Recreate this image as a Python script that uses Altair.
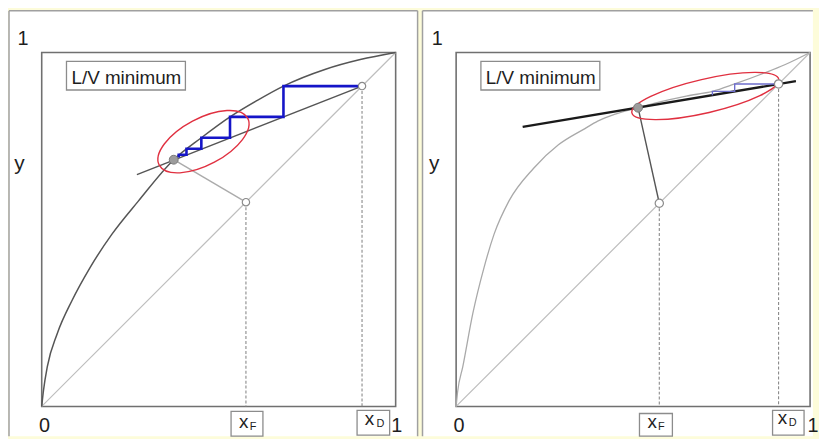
import altair as alt
import pandas as pd

# ---------------- values ----------------
# Left panel
L_EQ_X = [0, 0.005, 0.016, 0.044, 0.086, 0.137, 0.198, 0.273, 0.373, 0.451, 0.532, 0.608, 0.683, 0.80, 0.90, 1]
L_EQ_Y = [0, 0.045, 0.113, 0.206, 0.300, 0.393, 0.486, 0.580, 0.697, 0.759, 0.818, 0.864, 0.905, 0.952, 0.980, 1]
L_OP = [0.269, 0.655, 0.905, 0.905]          # x1, y1, x2, y2
L_XF = 0.577
L_XD = 0.905
L_PINCH = [0.373, 0.697]
L_STEP_X = [0.905, 0.683, 0.683, 0.532, 0.532, 0.451, 0.451, 0.409, 0.409, 0.387, 0.387]
L_STEP_Y = [0.905, 0.905, 0.818, 0.818, 0.759, 0.759, 0.728, 0.728, 0.711, 0.711, 0.703]
L_ELL = [0.457, 0.748]                      # centre of red ellipse
L_XF_BOX = [0.535, 0.625, -0.014, -0.084]
L_XD_BOX = [0.891, 0.983, -0.011, -0.081]
L_FRAME = [-0.0924, 1.062, -0.084, 1.1176]

# Right panel
R_EQ_X = [0, 0.004, 0.019, 0.047, 0.079, 0.107, 0.149, 0.219, 0.289, 0.364, 0.400, 0.450, 0.514, 0.600, 0.650, 0.724, 0.787, 0.871, 0.930, 1]
R_EQ_Y = [0, 0.040, 0.113, 0.262, 0.393, 0.486, 0.580, 0.673, 0.739, 0.785, 0.806, 0.826, 0.844, 0.866, 0.877, 0.890, 0.911, 0.942, 0.966, 1]
R_OP = [0.188, 0.790, 0.960, 0.919]
R_XF = 0.574
R_XD = 0.911
R_PINCH = [0.514, 0.844]
R_STEP_X = [0.911, 0.787, 0.787, 0.724, 0.724]
R_STEP_Y = [0.911, 0.911, 0.890, 0.890, 0.879]
R_ELL = [0.704, 0.877]
R_XF_BOX = [0.518, 0.611, -0.020, -0.084]
R_XD_BOX = [0.894, 0.983, -0.011, -0.081]
R_FRAME = [-0.095, 1.008, -0.084, 1.1176]

LV_BOX = [0.070, 0.406, 0.894, 0.975]
LABEL_TEXT = ["1", "y", "0", "1"]
L_LABEL_X = [-0.053, -0.063, 0.008, 1.003]
R_LABEL_X = [-0.053, -0.062, 0.008, 1.008]
LABEL_Y = [1.022, 0.667, -0.073, -0.073]
LABEL_SIZE = [20, 21, 20, 20]

L_SUB = [("x", 0.571, -0.062, 19), ("F", 0.597, -0.066, 11),
         ("x", 0.926, -0.053, 19), ("D", 0.957, -0.057, 11)]
R_SUB = [("x", 0.554, -0.062, 19), ("F", 0.580, -0.067, 11),
         ("x", 0.922, -0.050, 19), ("D", 0.951, -0.055, 11)]

BG = "#fdfcda"
FONT = "Liberation Sans"
DOM = [0, 1]


def X(f):
    return alt.X(f, type="quantitative", scale=alt.Scale(domain=DOM, nice=False, zero=False), axis=None)


def Y(f):
    return alt.Y(f, type="quantitative", scale=alt.Scale(domain=DOM, nice=False, zero=False), axis=None)


def segs(rows, **kw):
    df = pd.DataFrame(rows, columns=["x", "y", "x2", "y2"])
    return alt.Chart(df).mark_rule(**kw).encode(x=X("x"), y=Y("y"), x2="x2", y2="y2")


def boxes(rows, **kw):
    df = pd.DataFrame(rows, columns=["x", "x2", "y", "y2"])
    return alt.Chart(df).mark_rect(**kw).encode(x=X("x"), x2="x2", y=Y("y"), y2="y2")


def ellipse_path(r):
    k = 0.5523
    return (f"M -1 0 C -1 {-k*r:.4f} {-k:.4f} {-r:.4f} 0 {-r:.4f} "
            f"C {k:.4f} {-r:.4f} 1 {-k*r:.4f} 1 0 "
            f"C 1 {k*r:.4f} {k:.4f} {r:.4f} 0 {r:.4f} "
            f"C {-k:.4f} {r:.4f} -1 {k*r:.4f} -1 0 Z")


def panel(eq_x, eq_y, eq_style, op, op_style, q_style, xf, xd, pinch, step_x, step_y, step_style,
          ell, ell_ratio, ell_size, ell_angle, xf_box, xd_box, frame, right_border, label_x, subs,
          open_size, pinch_size):
    layers = []
    fx1, fx2, fy1, fy2 = frame
    layers.append(boxes([[fx1, fx2, fy1, fy2]], fill="white", strokeWidth=0))
    border = [[fx1, fy1, fx1, fy2], [fx1, fy2, fx2, fy2]]
    if right_border:
        border.append([fx2, fy1, fx2, fy2])
    layers.append(segs(border, color="#a0a0a0", strokeWidth=1.5))
    # plot box
    layers.append(boxes([[0, 1, 0, 1]], fillOpacity=0, stroke="#707070", strokeWidth=1.6))
    # diagonal
    layers.append(segs([[0, 0, 1, 1]], color="#bdbdbd", strokeWidth=1.2))
    # dashed verticals
    layers.append(segs([[xf, xf, xf, 0], [xd, xd, xd, 0]], color="#8a8a8a", strokeWidth=1.1, strokeDash=[3, 2]))
    # q-line
    layers.append(segs([[xf, xf, pinch[0], pinch[1]]], **q_style))
    # equilibrium curve
    eq = pd.DataFrame({"x": eq_x, "y": eq_y, "i": list(range(len(eq_x)))})
    layers.append(alt.Chart(eq).mark_line(interpolate="monotone", **eq_style)
                  .encode(x=X("x"), y=Y("y"), order=alt.Order("i:Q")))
    # operating line
    layers.append(segs([op], **op_style))
    # stages
    st = pd.DataFrame({"x": step_x, "y": step_y, "i": list(range(len(step_x)))})
    layers.append(alt.Chart(st).mark_line(**step_style)
                  .encode(x=X("x"), y=Y("y"), order=alt.Order("i:Q")))
    # red ellipse
    layers.append(alt.Chart(pd.DataFrame({"x": [ell[0]], "y": [ell[1]]}))
                  .mark_point(shape=ellipse_path(ell_ratio), size=ell_size, angle=ell_angle,
                              filled=False, stroke="#e03040", strokeWidth=1.4, opacity=1)
                  .encode(x=X("x"), y=Y("y")))
    # points
    layers.append(alt.Chart(pd.DataFrame({"x": [pinch[0]], "y": [pinch[1]]}))
                  .mark_point(shape="circle", filled=True, size=pinch_size, fill="#9c9c9c",
                              stroke="#7a7a7a", strokeWidth=1, opacity=1)
                  .encode(x=X("x"), y=Y("y")))
    layers.append(alt.Chart(pd.DataFrame({"x": [xf, xd], "y": [xf, xd]}))
                  .mark_point(shape="circle", filled=True, size=open_size, fill="white",
                              stroke="#8a8a8a", strokeWidth=1.2, opacity=1)
                  .encode(x=X("x"), y=Y("y")))
    # label boxes
    layers.append(boxes([xf_box, xd_box, LV_BOX], fill="white", stroke="#8c8c8c", strokeWidth=1.3))
    # axis-like labels
    lab = pd.DataFrame({"x": label_x, "y": LABEL_Y, "t": LABEL_TEXT, "s": LABEL_SIZE})
    layers.append(alt.Chart(lab).mark_text(font=FONT, color="#1e1e1e", align="center", baseline="alphabetic")
                  .encode(x=X("x"), y=Y("y"), text="t:N", size=alt.Size("s:Q", scale=None)))
    sub = pd.DataFrame(subs, columns=["t", "x", "y", "s"])
    layers.append(alt.Chart(sub).mark_text(font=FONT, color="#1e1e1e", align="center", baseline="alphabetic")
                  .encode(x=X("x"), y=Y("y"), text="t:N", size=alt.Size("s:Q", scale=None)))
    lv = pd.DataFrame({"x": [0.084], "y": [0.910], "t": ["L/V minimum"]})
    layers.append(alt.Chart(lv).mark_text(font=FONT, color="#1e1e1e", align="left", baseline="alphabetic", fontSize=19)
                  .encode(x=X("x"), y=Y("y"), text="t:N"))
    return alt.layer(*layers).properties(width=357, height=357)


left = panel(L_EQ_X, L_EQ_Y, dict(color="#555555", strokeWidth=1.5), L_OP,
             dict(color="#555555", strokeWidth=1.5), dict(color="#ababab", strokeWidth=1.4),
             L_XF, L_XD, L_PINCH, L_STEP_X, L_STEP_Y, dict(color="#1515c8", strokeWidth=2.6),
             L_ELL, 0.465, 10201, 332, L_XF_BOX, L_XD_BOX, L_FRAME, True, L_LABEL_X, L_SUB, 55, 80)

right = panel(R_EQ_X, R_EQ_Y, dict(color="#a9a9a9", strokeWidth=1.3), R_OP,
              dict(color="#1a1a1a", strokeWidth=2.3), dict(color="#555555", strokeWidth=1.4),
              R_XF, R_XD, R_PINCH, R_STEP_X, R_STEP_Y, dict(color="#6e6ecc", strokeWidth=1.4),
              R_ELL, 0.224, 23104, 347, R_XF_BOX, R_XD_BOX, R_FRAME, False, R_LABEL_X, R_SUB, 70, 80)

chart = (alt.hconcat(left, right, spacing=61, bounds="flush")
         .properties(background=BG, padding=0)
         .configure_view(stroke=None))

chart.save("out.html", embed_options={"renderer": "svg", "actions": False})
